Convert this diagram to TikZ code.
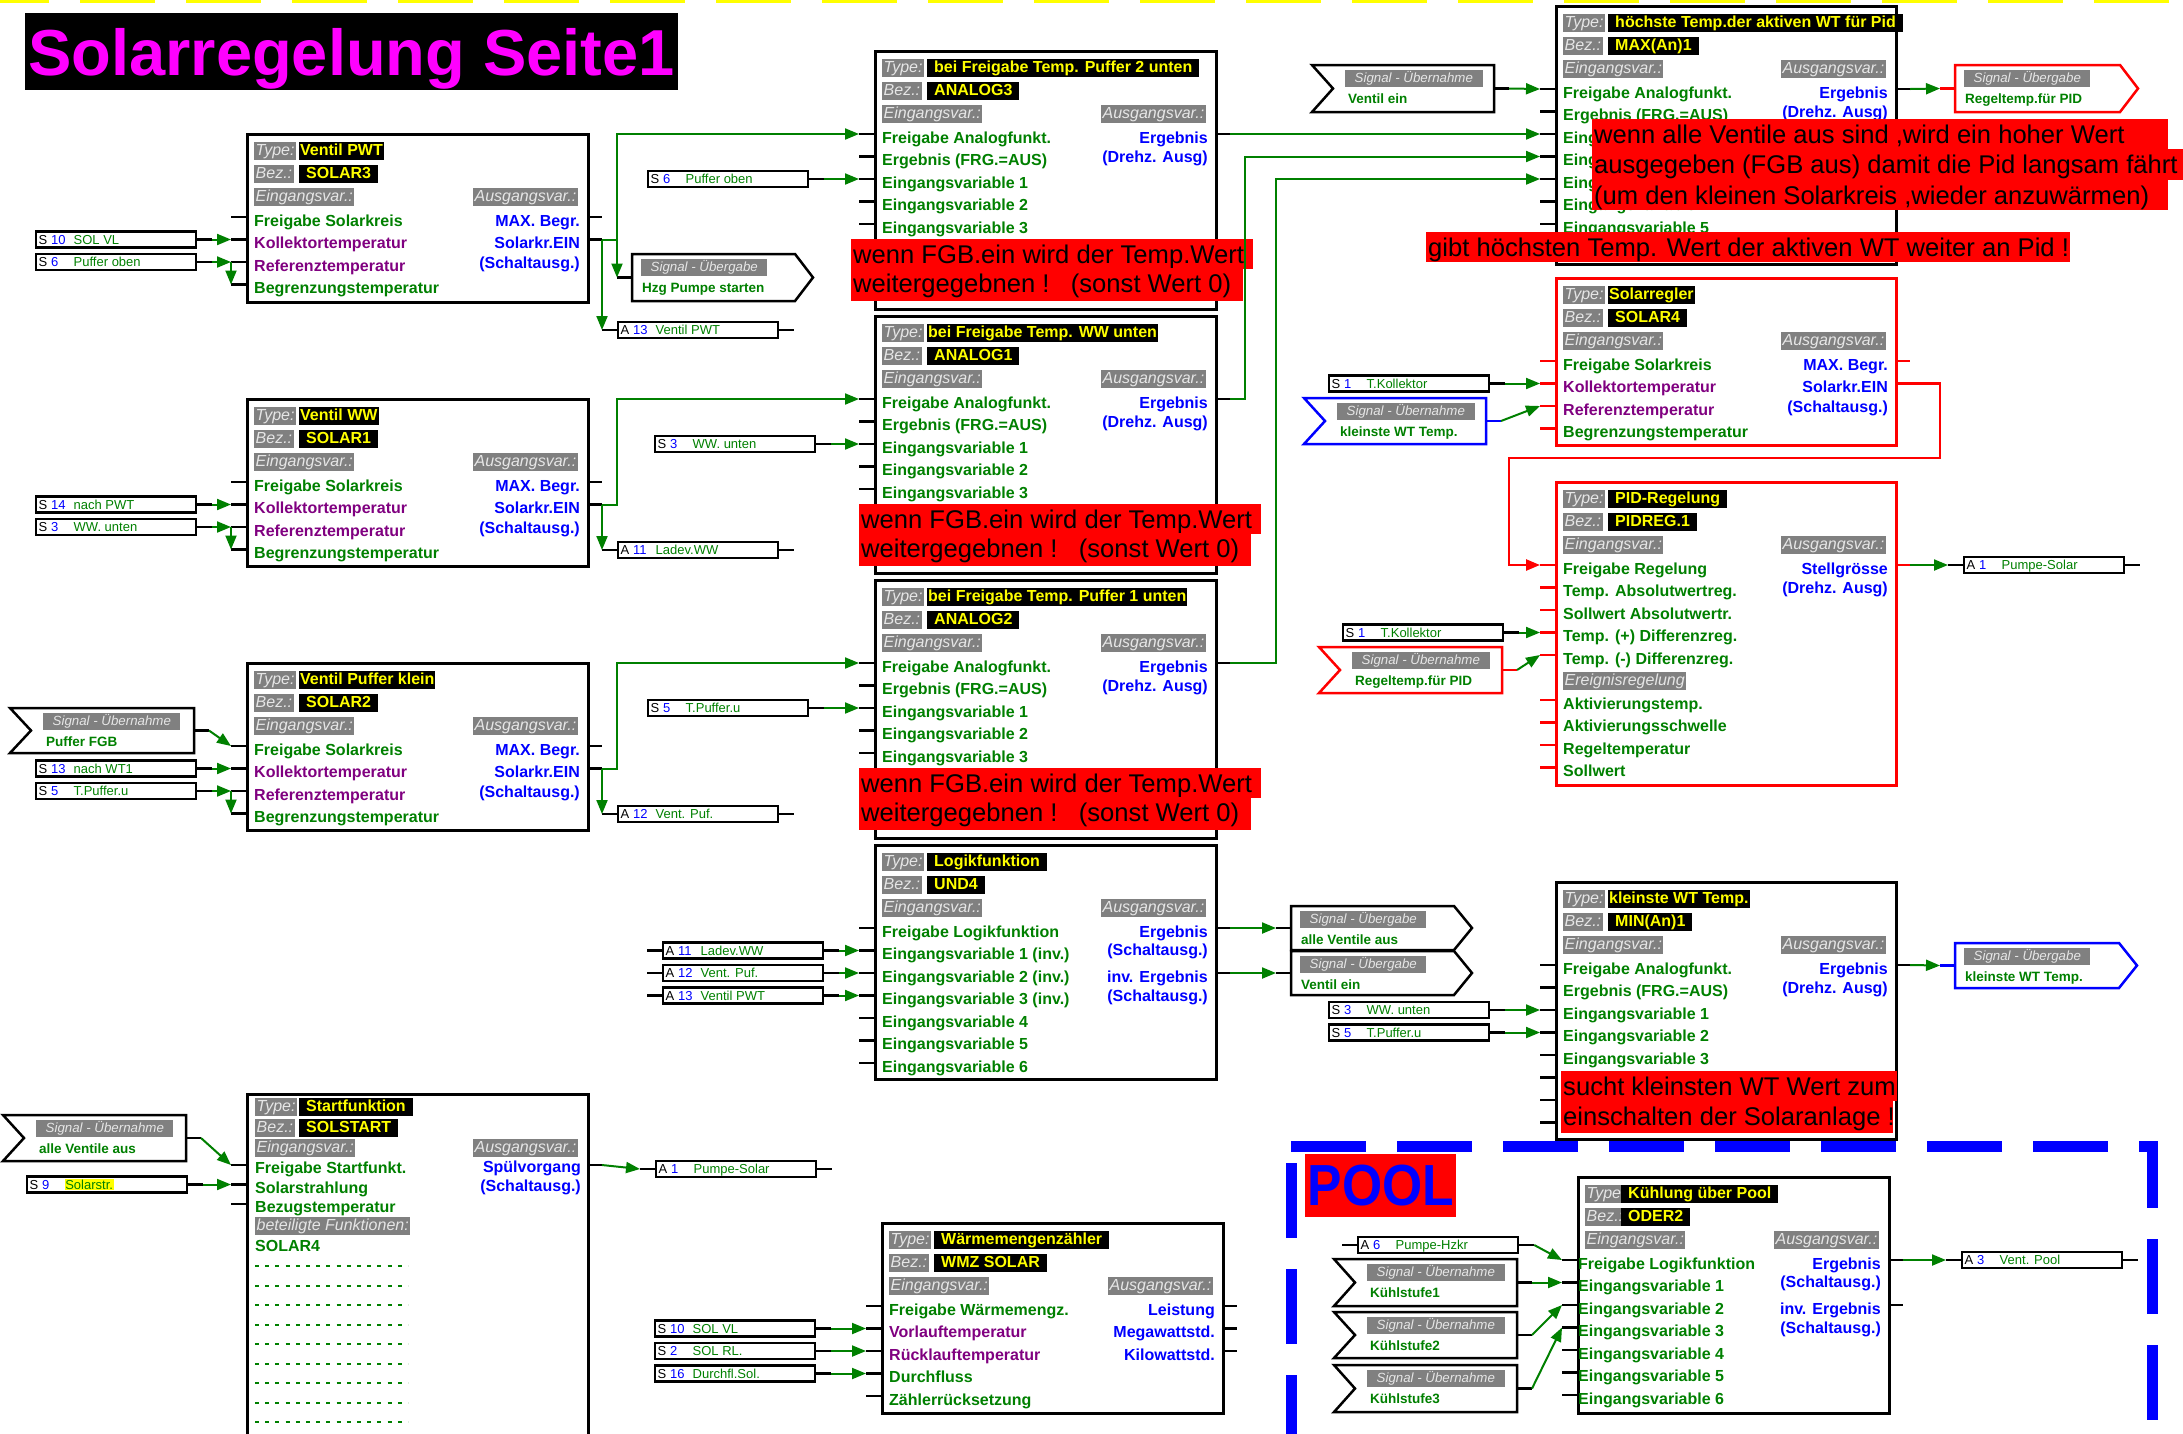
\documentclass[tikz,border=0pt]{standalone}
\usepackage{fontspec}
\setmainfont{Liberation Sans}
\usetikzlibrary{arrows.meta}

\definecolor{tgreen}{RGB}{0,128,0}
\definecolor{tpurple}{RGB}{128,0,128}
\definecolor{tblue}{RGB}{0,0,255}
\definecolor{hgrey}{RGB}{128,128,128}
\definecolor{hlight}{RGB}{230,230,230}
\definecolor{tyellow}{RGB}{255,255,0}
\definecolor{tred}{RGB}{255,0,0}
\definecolor{tmag}{RGB}{255,0,255}

\newcommand{\fsz}[1]{\fontsize{#1}{#1}\selectfont}
\newcommand{\pd}[1]{\hspace*{6pt}#1\hspace*{6pt}}

\tikzset{
  blk/.style={rectangle, draw, line width=2.5pt, anchor=north west, inner sep=0pt},
  hdr/.style={anchor=north west, fill=hgrey, text=hlight, font={\fsz{16}\itshape}, inner xsep=1.5pt, inner ysep=0.5pt, text height=13pt, text depth=4pt},
  tbox/.style={anchor=north west, fill=black, text=tyellow, font={\fsz{16}\bfseries}, inner xsep=1pt, inner ysep=0.5pt, text height=13pt, text depth=4pt},
  rowtxt/.style={anchor=base west, font={\fsz{16}\bfseries}, inner sep=0pt},
  stub/.style={draw=black, line width=2.5pt},
  wire/.style={draw=tgreen, line width=2pt},
  rwire/.style={draw=tred, line width=2.5pt},
  arr/.style={-{Triangle[length=14pt,width=11pt]}},
  iobox/.style={rectangle, draw, fill=white, line width=2.2pt, minimum width=160pt, minimum height=16pt, anchor=west, inner sep=0pt},
  iotxt/.style={anchor=base west, font=\fsz{13}, inner sep=0pt},
  sigline/.style={line width=2.5pt, fill=white},
  sighdr/.style={anchor=north west, fill=hgrey, text=hlight, font={\fsz{13.3}\itshape}, inner xsep=9.5pt, inner ysep=0.5pt, text height=12pt, text depth=4pt},
  sigtxt/.style={anchor=base west, text=tgreen, font={\fsz{13.5}\bfseries}, inner sep=0pt},
  notetxt/.style={anchor=base west, text=black, font=\fsz{25.6}, inner sep=0pt},
  dotrow/.style={draw=tgreen, line width=2pt, dash pattern=on 4pt off 6.2pt},
  topdash/.style={draw=tyellow, line width=3.5pt, dash pattern=on 75pt off 31pt, dash phase=26pt},
  pooldash/.style={draw=tblue, line width=11pt, dash pattern=on 75pt off 31pt},
  titlebox/.style={anchor=north west, fill=black, text=tmag, font={\fsz{65}\bfseries}, inner xsep=3pt, inner ysep=0pt, text height=62pt, text depth=15pt}
}

\newcommand{\solrows}{1/tgreen/Freigabe Solarkreis, 2/tpurple/Kollektortemperatur, 3/tpurple/Referenztemperatur, 4/tgreen/Begrenzungstemperatur}
\newcommand{\anarows}{1/tgreen/Freigabe Analogfunkt., 2/tgreen/Ergebnis (FRG.=AUS), 3/tgreen/Eingangsvariable 1, 4/tgreen/Eingangsvariable 2, 5/tgreen/Eingangsvariable 3, 6/tgreen/{}, 7/tgreen/{}, 8/tgreen/{}}
\newcommand{\maxrows}{1/tgreen/Freigabe Analogfunkt., 2/tgreen/Ergebnis (FRG.=AUS), 3/tgreen/Eingangsvariable 1, 4/tgreen/Eingangsvariable 2, 5/tgreen/Eingangsvariable 3, 6/tgreen/Eingangsvariable 4, 7/tgreen/Eingangsvariable 5, 8/tgreen/{}}
\newcommand{\undrows}{1/tgreen/Freigabe Logikfunktion, 2/tgreen/Eingangsvariable 1 (inv.), 3/tgreen/Eingangsvariable 2 (inv.), 4/tgreen/Eingangsvariable 3 (inv.), 5/tgreen/Eingangsvariable 4, 6/tgreen/Eingangsvariable 5, 7/tgreen/Eingangsvariable 6}
\newcommand{\oderrows}{1/tgreen/Freigabe Logikfunktion, 2/tgreen/Eingangsvariable 1, 3/tgreen/Eingangsvariable 2, 4/tgreen/Eingangsvariable 3, 5/tgreen/Eingangsvariable 4, 6/tgreen/Eingangsvariable 5, 7/tgreen/Eingangsvariable 6}
\newcommand{\wmzrows}{1/tgreen/Freigabe Wärmemengz., 2/tpurple/Vorlauftemperatur, 3/tpurple/Rücklauftemperatur, 4/tgreen/Durchfluss, 5/tgreen/Zählerrücksetzung}
\newcommand{\pidrows}{1/tgreen/Freigabe Regelung, 2/tgreen/Temp. Absolutwertreg., 3/tgreen/Sollwert Absolutwertr., 4/tgreen/Temp. (+) Differenzreg., 5/tgreen/Temp. (-) Differenzreg., 7/tgreen/Aktivierungstemp., 8/tgreen/Aktivierungsschwelle, 9/tgreen/Regeltemperatur, 10/tgreen/Sollwert}
\newcommand{\solouts}{0/tblue/MAX. Begr., 22.5/tblue/Solarkr.EIN, 42/tblue/(Schaltausg.)}
\newcommand{\anaouts}{0/tblue/Ergebnis, 19/tblue/(Drehz. Ausg)}
\newcommand{\logouts}{0/tblue/Ergebnis, 18.5/tblue/(Schaltausg.), 45/tblue/inv. Ergebnis, 64/tblue/(Schaltausg.)}
\newcommand{\wmzouts}{0/tblue/Leistung, 22.5/tblue/Megawattstd., 45/tblue/Kilowattstd.}
\newcommand{\pidouts}{0/tblue/Stellgrösse, 19/tblue/(Drehz. Ausg)}

\newcommand{\fblock}[9][53]{%
  \node (#2) [blk, draw=#7, minimum width=#5pt, minimum height=#6pt] at (#3,#4) {};
  \node (#2-tl) [hdr] at (#3+8,#4+9) {Type:};
  \node (#2-t) [tbox] at (#3+#1,#4+9) {#8};
  \node (#2-bl) [hdr] at (#3+8,#4+32) {Bez.:};
  \node (#2-b) [tbox] at (#3+#1,#4+32) {#9};
  \node (#2-ei) [hdr] at (#3+8,#4+55) {Eingangsvar.:};
  \node (#2-au) [hdr, anchor=north east] at (#3+#5-9,#4+55) {Ausgangsvar.:};
}
\newcommand{\fins}[6]{%
  \foreach \kk/\cl/\tx in #6 {
    \draw[stub, draw=#4] (#2-15,#3+61.5+22.5*\kk) coordinate (#1-i\kk) -- (#2,#3+61.5+22.5*\kk);
    \node (#1-r\kk) [rowtxt, text=\cl] at (#2+#5,#3+70.5+22.5*\kk) {\tx};
  }%
}
\newcommand{\fouts}[6]{%
  \foreach \dy/\cl/\tx [count=\n] in #5
    \node (#1-q\n) [rowtxt, anchor=base east, text=\cl] at (#2-7,#3+93+\dy) {\tx};
  \foreach \kk in {#6}
    \draw[stub, draw=#4] (#2,#3+61.5+22.5*\kk) -- (#2+15,#3+61.5+22.5*\kk) coordinate (#1-o\kk);
}
\newcommand{\iobx}[6]{%
  \node (#1) [iobox] at (#2,#3) {};
  \node (#1-a) [iotxt] at (#2+3.5,#3+4.7) {#4};
  \node (#1-n) [iotxt, text=tblue] at (#2+16,#3+4.7) {#5};
  \node (#1-t) [iotxt, text=tgreen] at (#2+38.5,#3+4.7) {#6};
  \draw[stub] (#1.east) -- ++(15,0) coordinate (#1-r);
}
\newcommand{\sens}[5]{\iobx{#1}{#2}{#3}{S}{#4}{#5}}
\newcommand{\aout}[5]{\iobx{#1}{#2}{#3}{A}{#4}{#5}\draw[stub] (#1.west) -- ++(-15,0) coordinate (#1-l);}
\newcommand{\sigin}[7]{%
  \draw[sigline, draw=#6] (#2,#3) coordinate (#1) -- ++(#4,0) -- ++(0,#5) -- ++(-#4,0) -- ++(21,-#5/2) -- cycle;
  \node (#1-h) [sighdr] at (#2+33,#3+5) {Signal - Übernahme};
  \node (#1-t) [sigtxt] at (#2+36,#3+38.5) {#7};
  \draw[stub, draw=#6] (#2+#4,#3+#5/2) -- ++(15,0) coordinate (#1-r);
}
\newcommand{\sigout}[7]{%
  \draw[sigline, draw=#6] (#2,#3) coordinate (#1) -- ++(#4-18,0) -- ++(18,#5/2) -- ++(-18,#5/2) -- ++(18-#4,0) -- cycle;
  \node (#1-h) [sighdr] at (#2+9,#3+5) {Signal - Übergabe};
  \node (#1-t) [sigtxt] at (#2+10,#3+38) {#7};
  \draw[stub, draw=#6] (#2,#3+#5/2) -- ++(-15,0) coordinate (#1-l);
}
\newcommand{\rednote}[6]{\fill[tred] (#2,#3) rectangle ++(#4,#5); \node (#1) [notetxt] at (#2+2,#3+24) {#6};}

\begin{document}
\begin{tikzpicture}[x=1pt, y=-1pt]
\path[fill=white, use as bounding box] (0,0) rectangle (2183,1433);
\clip (0,0) rectangle (2183,1433);
\draw[topdash] (0,1.5) -- (2183,1.5);
\node (title) [titlebox] at (25,13) {Solarregelung Seite1};

\fblock{sol_a}{246}{133}{341}{168}{black}{Ventil PWT}{\pd{SOLAR3}}
\fins{sol_a}{246}{133}{black}{8}{\solrows}
\fouts{sol_a}{587}{133}{black}{\solouts}{1,2}
\fblock{sol_b}{246}{398}{341}{167}{black}{Ventil WW}{\pd{SOLAR1}}
\fins{sol_b}{246}{398}{black}{8}{\solrows}
\fouts{sol_b}{587}{398}{black}{\solouts}{1,2}
\fblock{sol_c}{246}{662}{341}{167}{black}{Ventil Puffer klein}{\pd{SOLAR2}}
\fins{sol_c}{246}{662}{black}{8}{\solrows}
\fouts{sol_c}{587}{662}{black}{\solouts}{1,2}

\node (sol_s) [blk, minimum width=341pt, minimum height=360pt] at (246,1093) {};
\node (sol_s-tl) [hdr] at (255,1098) {Type:};
\node (sol_s-t) [tbox] at (299,1098) {\pd{Startfunktion}};
\node (sol_s-bl) [hdr] at (255,1119) {Bez.:};
\node (sol_s-b) [tbox] at (299,1119) {\pd{SOLSTART}};
\node (sol_s-ei) [hdr] at (255,1139) {Eingangsvar.:};
\node (sol_s-au) [hdr, anchor=north east] at (578,1139) {Ausgangsvar.:};
\foreach \kk/\tx in {1/Freigabe Startfunkt., 2/Solarstrahlung, 3/Bezugstemperatur} {
  \draw[stub] (231,1145.5+19.5*\kk) coordinate (sol_s-i\kk) -- (246,1145.5+19.5*\kk);
  \node (sol_s-r\kk) [rowtxt, text=tgreen] at (255,1154+19.5*\kk) {\tx};
}
\node (sol_s-bf) [hdr] at (255,1217) {beteiligte Funktionen:};
\node (sol_s-f) [rowtxt, text=tgreen] at (255,1251) {SOLAR4};
\foreach \kk in {0,...,8}
  \draw[dotrow] (255,1266+19.5*\kk) -- (408,1266+19.5*\kk);
\node (sol_s-q1) [rowtxt, anchor=base east, text=tblue] at (581,1172) {Spülvorgang};
\node (sol_s-q2) [rowtxt, anchor=base east, text=tblue] at (581,1191) {(Schaltausg.)};
\draw[stub] (587,1165) -- (602,1165) coordinate (sol_s-o1);

\fblock{ana_3}{874}{50}{341}{258}{black}{\pd{bei Freigabe Temp. Puffer 2 unten}}{\pd{ANALOG3}}
\fins{ana_3}{874}{50}{black}{8}{\anarows}
\fouts{ana_3}{1215}{50}{black}{\anaouts}{1}
\fblock{ana_1}{874}{315}{341}{257}{black}{bei Freigabe Temp. WW unten}{\pd{ANALOG1}}
\fins{ana_1}{874}{315}{black}{8}{\anarows}
\fouts{ana_1}{1215}{315}{black}{\anaouts}{1}
\fblock{ana_2}{874}{579}{341}{258}{black}{bei Freigabe Temp. Puffer 1 unten}{\pd{ANALOG2}}
\fins{ana_2}{874}{579}{black}{8}{\anarows}
\fouts{ana_2}{1215}{579}{black}{\anaouts}{1}
\fblock{und_4}{874}{844}{341}{234}{black}{\pd{Logikfunktion}}{\pd{UND4}}
\fins{und_4}{874}{844}{black}{8}{\undrows}
\fouts{und_4}{1215}{844}{black}{\logouts}{1,3}
\fblock{wmz}{881}{1222}{341}{190}{black}{\pd{Wärmemengenzähler}}{\pd{WMZ SOLAR}}
\fins{wmz}{881}{1222}{black}{8}{\wmzrows}
\fouts{wmz}{1222}{1222}{black}{\wmzouts}{1,2,3}

\fblock{max_1}{1555}{5}{340}{258}{black}{\pd{höchste Temp.der aktiven WT für Pid}}{\pd{MAX(An)1}}
\fins{max_1}{1555}{5}{black}{8}{\maxrows}
\fouts{max_1}{1895}{5}{black}{\anaouts}{1}
\fblock{sol_4}{1555}{277}{340}{167}{tred}{Solarregler}{\pd{SOLAR4}}
\fins{sol_4}{1555}{277}{tred}{8}{\solrows}
\fouts{sol_4}{1895}{277}{tred}{\solouts}{1,2}
\fblock{pid_1}{1555}{481}{340}{303}{tred}{\pd{PID-Regelung}}{\pd{PIDREG.1}}
\fins{pid_1}{1555}{481}{tred}{8}{\pidrows}
\fouts{pid_1}{1895}{481}{tred}{\pidouts}{1}
\node (pid_1-er) [hdr] at (1563,671.5) {Ereignisregelung};
\fblock{min_1}{1555}{881}{340}{257}{black}{kleinste WT Temp.}{\pd{MIN(An)1}}
\fins{min_1}{1555}{881}{black}{8}{\anarows}
\fouts{min_1}{1895}{881}{black}{\anaouts}{1}
\fblock[44]{oder_2}{1577}{1176}{311}{236}{black}{\pd{Kühlung über Pool}}{\pd{ODER2}}
\fins{oder_2}{1577}{1176}{black}{1}{\oderrows}
\fouts{oder_2}{1888}{1176}{black}{\logouts}{1,3}

\sens{s10_a}{35}{239.5}{10}{SOL VL}
\sens{s6_a}{35}{262}{6}{Puffer oben}
\sens{s14}{35}{504.5}{14}{nach PWT}
\sens{s3_a}{35}{527}{3}{WW. unten}
\sens{s13}{35}{768.5}{13}{nach WT1}
\sens{s5_a}{35}{791}{5}{T.Puffer.u}
\sens{s9}{26}{1184.5}{9}{{\setlength{\fboxsep}{0.6pt}\colorbox{tyellow}{Solarstr.}}}
\sens{s6_b}{647}{179}{6}{Puffer oben}
\sens{s3_b}{654}{444}{3}{WW. unten}
\sens{s5_b}{647}{708}{5}{T.Puffer.u}
\sens{s10_b}{654}{1328.5}{10}{SOL VL}
\sens{s2}{654}{1351}{2}{SOL RL.}
\sens{s16}{654}{1373.5}{16}{Durchfl.Sol.}
\sens{s1_a}{1328}{383.5}{1}{T.Kollektor}
\sens{s1_b}{1342}{632.5}{1}{T.Kollektor}
\sens{s3_c}{1328}{1010}{3}{WW. unten}
\sens{s5_c}{1328}{1032.5}{5}{T.Puffer.u}

\aout{a13_a}{617}{330}{13}{Ventil PWT}
\aout{a11_a}{617}{550}{11}{Ladev.WW}
\aout{a12_a}{617}{814}{12}{Vent. Puf.}
\aout{a11_b}{662}{950.5}{11}{Ladev.WW}
\aout{a12_b}{662}{973}{12}{Vent. Puf.}
\aout{a13_b}{662}{995.5}{13}{Ventil PWT}
\aout{a1_a}{655}{1169}{1}{Pumpe-Solar}
\aout{a1_b}{1963}{565}{1}{Pumpe-Solar}
\aout{a6}{1357}{1245}{6}{Pumpe-Hzkr}
\aout{a3}{1961}{1260}{3}{Vent. Pool}

\sigin{fgb}{10}{708}{184}{45}{black}{Puffer FGB}
\sigin{ava}{3}{1115}{183}{46}{black}{alle Ventile aus}
\sigout{hzg}{632}{254}{181}{47}{black}{Hzg Pumpe starten}
\sigin{vein}{1312}{65}{182}{47}{black}{Ventil ein}
\sigout{rg_out}{1955}{65}{183}{47}{tred}{Regeltemp.für PID}
\sigin{kw_in}{1304}{398}{182}{46}{tblue}{kleinste WT Temp.}
\sigin{rg_in}{1319}{647}{183}{46}{tred}{Regeltemp.für PID}
\sigout{av_out}{1291}{906}{181}{44}{black}{alle Ventile aus}
\sigout{ve_out}{1291}{951}{181}{44}{black}{Ventil ein}
\sigout{kw_out}{1955}{943}{182}{45}{tblue}{kleinste WT Temp.}
\sigin{k1}{1334}{1259}{183}{47}{black}{Kühlstufe1}
\sigin{k2}{1334}{1312}{183}{46}{black}{Kühlstufe2}
\sigin{k3}{1334}{1365}{183}{47}{black}{Kühlstufe3}

\rednote{n_a3a}{851}{239}{402}{30}{wenn FGB.ein wird der Temp.Wert}
\rednote{n_a3b}{851}{268}{392}{33}{weitergegebnen !\ \ \ (sonst Wert 0)}
\rednote{n_a1a}{859}{504}{402}{30}{wenn FGB.ein wird der Temp.Wert}
\rednote{n_a1b}{859}{533}{392}{33}{weitergegebnen !\ \ \ (sonst Wert 0)}
\rednote{n_a2a}{859}{768}{402}{30}{wenn FGB.ein wird der Temp.Wert}
\rednote{n_a2b}{859}{797}{392}{33}{weitergegebnen !\ \ \ (sonst Wert 0)}
\rednote{n_m1}{1592}{119}{576}{30}{wenn alle Ventile aus sind ,wird ein hoher Wert}
\rednote{n_m2}{1592}{149}{591}{31}{ausgegeben (FGB aus) damit die Pid langsam fährt}
\rednote{n_m3}{1592}{180}{576}{30}{(um den kleinen Solarkreis ,wieder anzuwärmen)}
\rednote{n_m4}{1426}{232}{644}{30}{gibt höchsten Temp. Wert der aktiven WT weiter an Pid !}
\rednote{n_k1}{1561}{1071}{336}{30}{sucht kleinsten WT Wert zum}
\rednote{n_k2}{1561}{1101}{332}{32}{einschalten der Solaranlage !}

\draw[wire,arr] (s10_a-r) -- (sol_a-i2);
\draw[wire,arr] (s6_a-r) -- (sol_a-i3);
\draw[wire,arr] (sol_a-i3) -- (sol_a-i4);
\draw[wire,arr] (sol_a-o2) -| (hzg-l);
\draw[wire,arr] (hzg-l |- sol_a-o2) |- (ana_3-i1);
\draw[wire,arr] (sol_a-o2) -- (a13_a-l);
\draw[wire,arr] (s14-r) -- (sol_b-i2);
\draw[wire,arr] (s3_a-r) -- (sol_b-i3);
\draw[wire,arr] (sol_b-i3) -- (sol_b-i4);
\draw[wire,arr] (sol_b-o2) -- ++(15,0) |- (ana_1-i1);
\draw[wire,arr] (sol_b-o2) -- (a11_a-l);
\draw[wire,arr] (fgb-r) -- (sol_c-i1);
\draw[wire,arr] (s13-r) -- (sol_c-i2);
\draw[wire,arr] (s5_a-r) -- (sol_c-i3);
\draw[wire,arr] (sol_c-i3) -- (sol_c-i4);
\draw[wire,arr] (sol_c-o2) -- ++(15,0) |- (ana_2-i1);
\draw[wire,arr] (sol_c-o2) -- (a12_a-l);
\draw[wire,arr] (ava-r) -- (sol_s-i1);
\draw[wire,arr] (s9-r) -- (sol_s-i2);
\draw[wire,arr] (sol_s-o1) -- (a1_a-l);

\draw[wire,arr] (s6_b-r) -- (ana_3-i3);
\draw[wire,arr] (s3_b-r) -- (ana_1-i3);
\draw[wire,arr] (s5_b-r) -- (ana_2-i3);
\draw[wire,arr] (ana_3-o1) -- (max_1-i3);
\draw[wire,arr] (ana_1-o1) -- ++(15,0) |- (max_1-i4);
\draw[wire,arr] (ana_2-o1) -- ++(46,0) |- (max_1-i5);
\draw[wire,arr] (a11_b-r) -- (und_4-i2);
\draw[wire,arr] (a12_b-r) -- (und_4-i3);
\draw[wire,arr] (a13_b-r) -- (und_4-i4);
\draw[wire,arr] (und_4-o1) -- (av_out-l);
\draw[wire,arr] (und_4-o3) -- (ve_out-l);
\draw[wire,arr] (s10_b-r) -- (wmz-i2);
\draw[wire,arr] (s2-r) -- (wmz-i3);
\draw[wire,arr] (s16-r) -- (wmz-i4);

\draw[wire,arr] (vein-r) -- (max_1-i1);
\draw[wire,arr] (max_1-o1) -- (rg_out-l);
\draw[wire,arr] (s1_a-r) -- (sol_4-i2);
\draw[wire,arr] (kw_in-r) -- (sol_4-i3);
\coordinate (rbend) at (1940,458);
\coordinate (lbend) at (1509,458);
\draw[rwire,arr] (sol_4-o2) -| (rbend) -- (lbend) |- (pid_1-i1);
\draw[wire,arr] (s1_b-r) -- (pid_1-i4);
\draw[wire,arr] (rg_in-r) -- (pid_1-i5);
\draw[wire,arr] (pid_1-o1) -- (a1_b-l);
\draw[wire,arr] (s3_c-r) -- (min_1-i3);
\draw[wire,arr] (s5_c-r) -- (min_1-i4);
\draw[wire,arr] (min_1-o1) -- (kw_out-l);

\draw[pooldash] (1291,1146) -- (2152,1146) -- (2152,1460);
\draw[pooldash] (1291,1163) -- (1291,1460);
\node (pool) [anchor=north west, fill=tred, text=tblue, font={\fsz{58}\bfseries}, minimum width=151pt, minimum height=63pt, inner sep=0pt] at (1305,1154) {\scalebox{0.89}[1]{POOL}};
\draw[wire,arr] (a6-r) -- (oder_2-i1);
\draw[wire,arr] (k1-r) -- (oder_2-i2);
\draw[wire,arr] (k2-r) -- (oder_2-i3);
\draw[wire,arr] (k3-r) -- (oder_2-i4);
\draw[wire,arr] (oder_2-o1) -- (a3-l);
\end{tikzpicture}
\end{document}
